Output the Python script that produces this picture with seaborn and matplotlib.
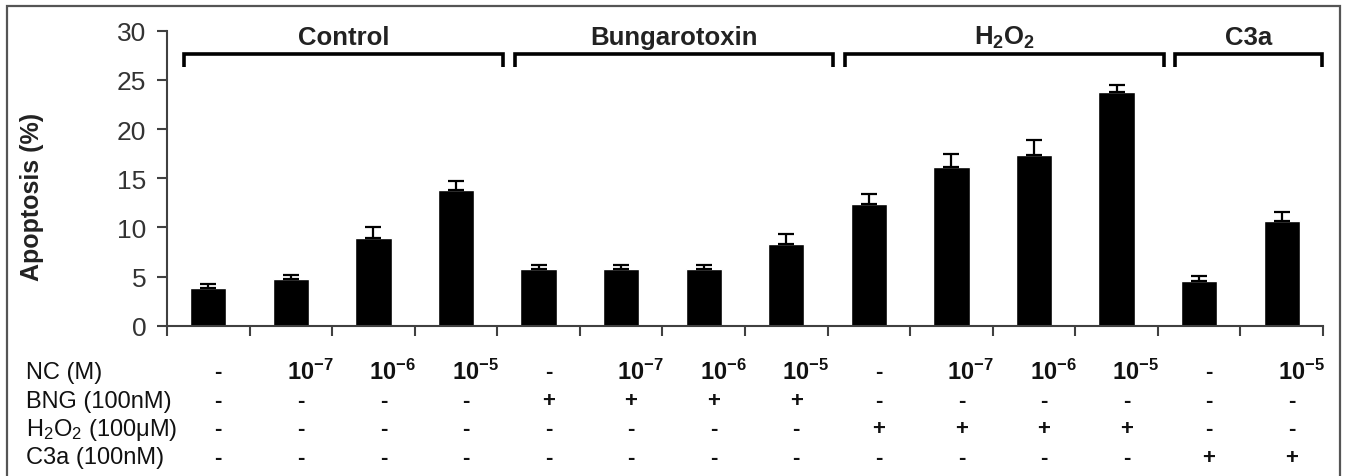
import pandas as pd
import seaborn as sns
import matplotlib.pyplot as plt
import matplotlib.transforms as mtransforms
from matplotlib.patches import Rectangle

# Bar values (apoptosis %, upper error bar)
conditions = ["C0", "C1", "C2", "C3", "B0", "B1", "B2", "B3",
              "H0", "H1", "H2", "H3", "A0", "A1"]
apoptosis = [3.8, 4.8, 8.9, 13.8, 5.8, 5.8, 5.8, 8.3,
             12.4, 16.1, 17.4, 23.8, 4.5, 10.6]
sem = [0.4, 0.4, 1.1, 0.9, 0.35, 0.35, 0.35, 1.0,
       1.0, 1.4, 1.5, 0.7, 0.6, 1.0]

# Group brackets on top
group_names = ["Control", "Bungarotoxin", r"$\mathbf{H_2O_2}$", "C3a"]
group_of_bar = [0, 0, 0, 0, 1, 1, 1, 1, 2, 2, 2, 2, 3, 3]

# Treatment table below the axis
row_labels = ["NC (M)", "BNG (100nM)", r"H$_2$O$_2$ (100μM)", "C3a (100nM)"]
nc = ["-", "10^{-7}", "10^{-6}", "10^{-5}", "-", "10^{-7}", "10^{-6}", "10^{-5}",
      "-", "10^{-7}", "10^{-6}", "10^{-5}", "-", "10^{-5}"]
bng = ["-", "-", "-", "-", "+", "+", "+", "+", "-", "-", "-", "-", "-", "-"]
h2o2 = ["-", "-", "-", "-", "-", "-", "-", "-", "+", "+", "+", "+", "-", "-"]
c3a = ["-", "-", "-", "-", "-", "-", "-", "-", "-", "-", "-", "-", "+", "+"]

sns.set_style("ticks")
plt.rcParams["font.family"] = ["Liberation Sans", "DejaVu Sans"]
plt.rcParams["mathtext.fontset"] = "custom"
plt.rcParams["mathtext.rm"] = "Liberation Sans"
plt.rcParams["mathtext.bf"] = "Liberation Sans:bold"
plt.rcParams["mathtext.it"] = "Liberation Sans:italic"

W, H = 1347, 477
fig = plt.figure(figsize=(W / 100, H / 100), dpi=100)
ax = fig.add_axes([167 / W, 1 - 326.7 / H, (1323 - 167) / W, (326.7 - 31.7) / H])

df = pd.DataFrame({"condition": conditions, "apoptosis": apoptosis})
sns.barplot(data=df, x="condition", y="apoptosis", order=conditions,
            color="black", saturation=1, width=0.44, errorbar=None, ax=ax)

xs = range(len(conditions))
ax.errorbar(xs, apoptosis, yerr=[[0] * len(sem), sem], fmt="none",
            ecolor="black", elinewidth=1.6, capsize=5.5, capthick=1.6)

axis_col = "#404040"
ax.set_xlim(-0.5, len(conditions) - 0.5)
ax.set_ylim(0, 30)
ax.set_yticks(range(0, 31, 5))
ax.set_xticks([i - 0.5 for i in range(len(conditions) + 1)])
ax.set_xticklabels([])
ax.tick_params(axis="both", direction="out", length=7, width=1.5, color=axis_col)
ax.tick_params(axis="y", labelsize=19, labelcolor="#333333", pad=8)
sns.despine(ax=ax)
for s in ["left", "bottom"]:
    ax.spines[s].set_linewidth(1.5)
    ax.spines[s].set_color(axis_col)
ax.set_xlabel("")
ax.set_ylabel("Apoptosis (%)", fontsize=18, fontweight="bold", color="#222222")
ax.yaxis.set_label_coords(-0.106, 0.44)

# brackets with group titles
for g, name in enumerate(group_names):
    idx = [i for i, gi in enumerate(group_of_bar) if gi == g]
    x0 = idx[0] - 0.5 + 0.21
    x1 = min(idx[-1] + 0.5 + 0.07, len(conditions) - 0.51)
    ax.plot([x0, x0, x1, x1], [26.3, 27.6, 27.6, 26.3], color="black",
            lw=2.6, solid_capstyle="butt", solid_joinstyle="miter", clip_on=False)
    ax.text((x0 + x1) / 2, 28.65, name, ha="center", va="baseline",
            fontsize=18.5, fontweight="bold", color="#222222", clip_on=False)

# treatment table
tr = mtransforms.blended_transform_factory(ax.transData, fig.transFigure)
row_y = [372.7, 401.7, 430.0, 458.3]
for r, (label, vals) in enumerate(zip(row_labels, [nc, bng, h2o2, c3a])):
    yf = 1 - row_y[r] / H
    fig.text(26 / W, yf, label, ha="left", va="center", fontsize=17, color="#111111")
    for i, v in enumerate(vals):
        if v.startswith("10"):
            ax.text(i - 0.05, yf, r"$\mathbf{" + v + "}$", transform=tr,
                    ha="left", va="center", fontsize=17, color="#111111")
        else:
            ax.text(i + 0.12, yf, v, transform=tr, ha="center", va="center",
                    fontsize=16, fontweight="bold", color="#111111")

# frame around the whole figure
fig.add_artist(Rectangle((7 / W, -0.1), (1340 - 7) / W, 1.1 - 7 / H,
                         transform=fig.transFigure, fill=False,
                         edgecolor="#555555", lw=1.6, clip_on=False))

fig.savefig("out.png", dpi=100)
